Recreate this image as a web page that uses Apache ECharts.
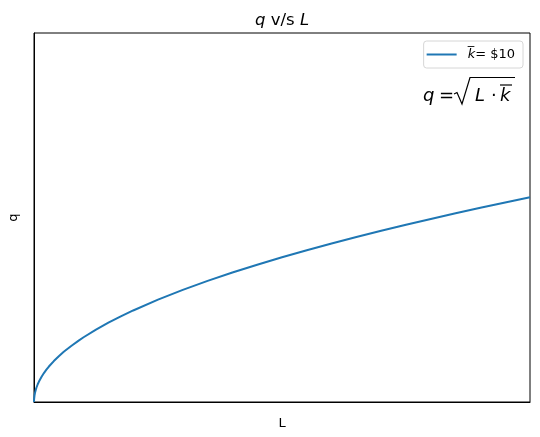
<!DOCTYPE html>
<html><head><meta charset="utf-8">
<script src="https://cdn.jsdelivr.net/npm/echarts@6/dist/echarts.min.js"></script>
<style>html,body{margin:0;padding:0;background:#fff}#c{width:540px;height:437px}</style>
</head><body><div id="c"></div>
<script>
// Values (labour L vs output q)
const L_values = [0, 0.02, 0.05, 0.1, 0.2, 0.35, 0.5, 0.75, 1, 1.5, 2, 2.5, 3, 4, 5, 6, 7.5, 9, 10, 12.5, 15, 17.5, 20, 25, 30, 35, 40, 45, 50, 55, 60, 65, 70, 75, 80, 85, 90, 95, 100];
const q_values = [0, 0.45, 0.71, 1.0, 1.41, 1.87, 2.24, 2.74, 3.16, 3.87, 4.47, 5.0, 5.48, 6.32, 7.07, 7.75, 8.66, 9.49, 10.0, 11.18, 12.25, 13.23, 14.14, 15.81, 17.32, 18.71, 20.0, 21.21, 22.36, 23.45, 24.49, 25.5, 26.46, 27.39, 28.28, 29.15, 30.0, 30.82, 31.62];
const seriesName = 'k̅ = $10';
const titleText = 'q v/s L';
const xLabel = 'L';
const yLabel = 'q';

const chart = echarts.init(document.getElementById('c'), null, {renderer: 'canvas'});
const FONT = 'DejaVu Sans';
chart.setOption({
  animation: false,
  backgroundColor: '#fff',
  title: {
    text: '{i|q} v/s {i|L}',
    left: 255, top: 12, padding: 0,
    textStyle: {
      fontFamily: FONT, fontSize: 16.5, fontWeight: 'normal', color: '#000',
      rich: { i: { fontFamily: FONT, fontSize: 16.5, fontStyle: 'italic', color: '#000' } }
    }
  },
  grid: { left: 34, right: 10, top: 33, bottom: 35, show: true, borderColor: '#000', borderWidth: 1, outerBoundsMode: 'none', containLabel: false },
  legend: {
    data: [seriesName],
    right: 17, top: 41,
    padding: [7, 8, 7, 3],
    borderColor: '#d6d6d6', borderWidth: 1, borderRadius: 3,
    backgroundColor: '#fff',
    icon: 'rect', itemWidth: 30, itemHeight: 2, itemGap: 8,
    formatter: function () { return '{s|}{i|k̅}= $10'; },
    textStyle: {
      fontFamily: FONT, fontSize: 13, color: '#000',
      rich: { i: { fontFamily: FONT, fontSize: 13, fontStyle: 'italic', color: '#000' }, s: { width: 6 } }
    }
  },
  xAxis: {
    type: 'value', min: 0, max: 100,
    name: xLabel, nameLocation: 'middle', nameGap: 15,
    nameTextStyle: { fontFamily: FONT, fontSize: 13, color: '#000' },
    axisLine: { show: true, lineStyle: { color: '#000', width: 1 } },
    axisTick: { show: false }, axisLabel: { show: false }, splitLine: { show: false }
  },
  yAxis: {
    type: 'value', min: 0, max: 57,
    name: yLabel, nameLocation: 'middle', nameGap: 14,
    nameTextStyle: { fontFamily: FONT, fontSize: 13, color: '#000' },
    axisLine: { show: true, lineStyle: { color: '#000', width: 1 } },
    axisTick: { show: false }, axisLabel: { show: false }, splitLine: { show: false }
  },
  series: [{
    name: seriesName, type: 'line',
    data: L_values.map((x, i) => [x, q_values[i]]),
    symbol: 'none', smooth: false,
    lineStyle: { color: '#1f77b4', width: 2 },
    itemStyle: { color: '#1f77b4' },
    clip: true
  }],
  graphic: [
    { type: 'text', left: 423, top: 87, style: { text: 'q', font: 'italic 18px "DejaVu Sans"', fill: '#000' } },
    { type: 'text', left: 439, top: 87, style: { text: '=', font: '18px "DejaVu Sans"', fill: '#000' } },
    { type: 'polyline', shape: { points: [[454, 94], [457, 92.5], [462, 104], [470, 77.5], [515, 77.5]] }, style: { stroke: '#000', lineWidth: 1.2, fill: null } },
    { type: 'text', left: 475, top: 87, style: { text: 'L', font: 'italic 18px "DejaVu Sans"', fill: '#000' } },
    { type: 'text', left: 491, top: 87, style: { text: '·', font: '18px "DejaVu Sans"', fill: '#000' } },
    { type: 'text', left: 500, top: 87, style: { text: 'k', font: 'italic 18px "DejaVu Sans"', fill: '#000' } },
    { type: 'line', shape: { x1: 500, y1: 85, x2: 512, y2: 85 }, style: { stroke: '#000', lineWidth: 1.2 } }
  ]
});
</script></body></html>
